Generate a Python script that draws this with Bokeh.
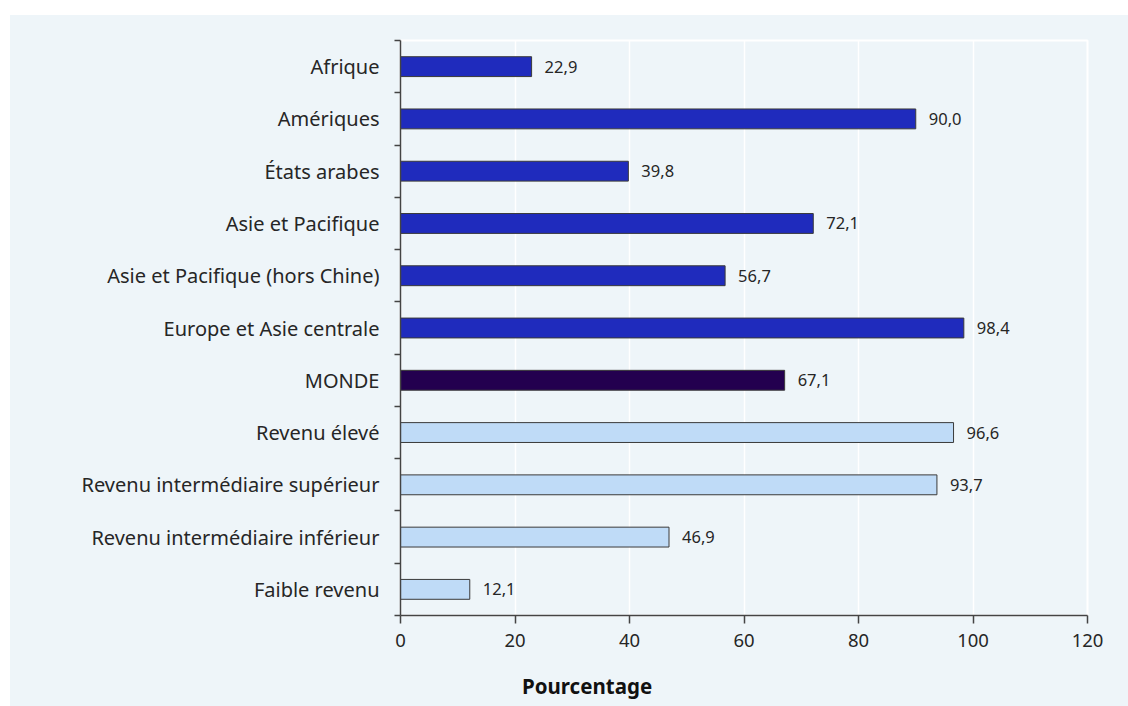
from bokeh.plotting import figure
from bokeh.models import Range1d, FixedTicker, ColumnDataSource, Div
from bokeh.layouts import column
from bokeh.core.properties import value
from bokeh.embed import file_html
from bokeh.resources import INLINE

# Categories from top to bottom, with their percentages
categories = [
    "Afrique",
    "Amériques",
    "États arabes",
    "Asie et Pacifique",
    "Asie et Pacifique (hors Chine)",
    "Europe et Asie centrale",
    "MONDE",
    "Revenu élevé",
    "Revenu intermédiaire supérieur",
    "Revenu intermédiaire inférieur",
    "Faible revenu",
]
percentages = [22.9, 90.0, 39.8, 72.1, 56.7, 98.4, 67.1, 96.6, 93.7, 46.9, 12.1]
groups = ["region"] * 6 + ["world"] + ["income"] * 4
x_ticks = [0, 20, 40, 60, 80, 100, 120]
x_title = "Pourcentage"

palette = {"region": "#1f2bbd", "world": "#23004f", "income": "#bfdbf7"}
FONT = "Noto Sans"
TEXT = "#262626"
BG = "#eef5f9"

n = len(categories)
centers = [n - i - 0.5 for i in range(n)]
boundaries = list(range(n + 1))

source = ColumnDataSource(dict(
    y=centers,
    pct=percentages,
    color=[palette[g] for g in groups],
    label=[f"{v:.1f}".replace(".", ",") for v in percentages],
))

p = figure(
    width=1118, height=645,
    x_range=Range1d(0, 120), y_range=Range1d(0, n),
    output_backend="svg", toolbar_location=None,
    min_border_left=390, min_border_right=41,
    min_border_top=25, min_border_bottom=45,
)
p.margin = 0
p.background_fill_color = BG
p.border_fill_color = BG
p.outline_line_color = "white"
p.outline_line_width = 2

p.hbar(y="y", left=0, right="pct", height=0.38, source=source,
       fill_color="color", line_color="#3a3a3a", line_width=1)

p.text(x="pct", y="y", text="label", source=source,
       x_offset=13, text_align="left", text_baseline="middle",
       text_font=value(FONT), text_font_size="16.5px", text_color=TEXT)

# horizontal axis
p.xaxis.ticker = FixedTicker(ticks=x_ticks)
p.xaxis.axis_line_color = "#444444"
p.xaxis.axis_line_width = 1.5
p.xaxis.major_tick_line_color = "#444444"
p.xaxis.major_tick_line_width = 1.5
p.xaxis.major_tick_out = 8
p.xaxis.major_tick_in = 0
p.xaxis.minor_tick_line_color = None
p.xaxis.major_label_standoff = 10
p.xaxis.major_label_text_font = FONT
p.xaxis.major_label_text_font_size = "18.5px"
p.xaxis.major_label_text_color = TEXT

# vertical axis: labels at bar centres, ticks on the category boundaries
p.yaxis.ticker = FixedTicker(ticks=centers, minor_ticks=boundaries)
p.yaxis.major_label_overrides = {c: lab for c, lab in zip(centers, categories)}
p.yaxis.major_tick_out = 0
p.yaxis.major_tick_in = 0
p.yaxis.minor_tick_out = 6
p.yaxis.minor_tick_in = 0
p.yaxis.minor_tick_line_color = "#444444"
p.yaxis.minor_tick_line_width = 1.5
p.yaxis.axis_line_color = "#444444"
p.yaxis.axis_line_width = 1.5
p.yaxis.major_label_standoff = 15
p.yaxis.major_label_text_font = FONT
p.yaxis.major_label_text_font_size = "20px"
p.yaxis.major_label_text_color = TEXT

p.xgrid.ticker = FixedTicker(ticks=x_ticks)
p.xgrid.grid_line_color = "white"
p.xgrid.grid_line_width = 1.5
p.ygrid.grid_line_color = None

# axis title in a strip under the plot, left of the plot's centre
title = Div(
    text=(f'<div style="padding:14px 0 0 512px;font-family:\'{FONT}\';'
          f'font-size:20.5px;font-weight:bold;color:#111111;'
          f'line-height:1.2;white-space:nowrap">{x_title}</div>'),
    width=1118, height=46, margin=0,
    styles={"background-color": BG},
)

layout = column(p, title, spacing=0, margin=(15, 0, 0, 10),
                styles={"background-color": BG})

open("out.html", "w").write(file_html(layout, INLINE))
